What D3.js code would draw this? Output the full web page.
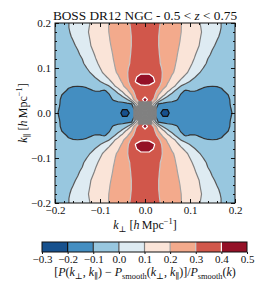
<!DOCTYPE html>
<html>
<head>
<meta charset="utf-8">
<script src="https://cdn.jsdelivr.net/npm/d3@7"></script>
<style>
body { margin: 0; background: #fff; }
text { font-family: "Liberation Serif", "DejaVu Serif", serif; fill: #111; }
</style>
</head>
<body>
<div class="container"></div>
<script>
// one quadrant of the measured ratio, k_perp and k_par from 0 to 0.2 (step 0.01)
// rows: k_par = 0, 0.01, ... ; columns: k_perp = 0, 0.01, ...
let kQuad = [0, 0.01, 0.02, 0.03, 0.04, 0.05, 0.06, 0.07, 0.08, 0.09, 0.10,
    0.11, 0.12, 0.13, 0.14, 0.15, 0.16, 0.17, 0.18, 0.19, 0.20];

let ratioQuad = [
    [0.1, 0.0, -0.15, -0.17, -0.23, -0.23, -0.15, -0.13, -0.14, -0.155, -0.16, -0.16, -0.165, -0.17, -0.175, -0.175, -0.17, -0.16, -0.14, -0.11, -0.08],
    [0.25, 0.15, -0.05, -0.15, -0.19, -0.19, -0.14, -0.13, -0.14, -0.155, -0.16, -0.16, -0.165, -0.17, -0.175, -0.175, -0.17, -0.16, -0.135, -0.102, -0.083],
    [0.38, 0.31, 0.1, -0.11, -0.12, -0.125, -0.12, -0.12, -0.13, -0.15, -0.155, -0.155, -0.16, -0.165, -0.17, -0.17, -0.165, -0.155, -0.13, -0.097, -0.085],
    [0.45, 0.36, 0.29, 0.12, -0.01, -0.06, -0.08, -0.095, -0.115, -0.14, -0.14, -0.14, -0.15, -0.155, -0.16, -0.16, -0.155, -0.145, -0.125, -0.095, -0.085],
    [0.36, 0.35, 0.33, 0.198, 0.133, 0.03, -0.04, -0.075, -0.105, -0.125, -0.12, -0.12, -0.13, -0.14, -0.145, -0.145, -0.14, -0.13, -0.106, -0.094, -0.088],
    [0.36, 0.36, 0.34, 0.275, 0.18, 0.13, 0.06, -0.025, -0.085, -0.104, -0.097, -0.096, -0.103, -0.11, -0.115, -0.118, -0.113, -0.105, -0.094, -0.088, -0.086],
    [0.39, 0.38, 0.36, 0.32, 0.25, 0.182, 0.136, 0.083, -0.002, -0.04, -0.065, -0.08, -0.088, -0.094, -0.098, -0.099, -0.098, -0.095, -0.092, -0.09, -0.09],
    [0.47, 0.46, 0.41, 0.345, 0.28, 0.213, 0.165, 0.122, 0.08, 0.04, -0.002, -0.035, -0.055, -0.07, -0.08, -0.085, -0.088, -0.09, -0.09, -0.09, -0.09],
    [0.46, 0.45, 0.39, 0.34, 0.29, 0.237, 0.189, 0.154, 0.118, 0.081, 0.044, 0.007, -0.03, -0.055, -0.07, -0.08, -0.085, -0.09, -0.09, -0.09, -0.09],
    [0.37, 0.37, 0.36, 0.34, 0.292, 0.252, 0.212, 0.178, 0.147, 0.116, 0.081, 0.044, 0.007, -0.025, -0.045, -0.06, -0.07, -0.08, -0.085, -0.09, -0.09],
    [0.38, 0.38, 0.36, 0.33, 0.287, 0.253, 0.22, 0.188, 0.159, 0.129, 0.099, 0.067, 0.033, -0.002, -0.03, -0.05, -0.06, -0.07, -0.08, -0.085, -0.09],
    [0.36, 0.36, 0.34, 0.312, 0.282, 0.253, 0.224, 0.195, 0.168, 0.141, 0.114, 0.084, 0.052, 0.019, -0.013, -0.035, -0.05, -0.065, -0.075, -0.08, -0.085],
    [0.35, 0.35, 0.33, 0.309, 0.281, 0.254, 0.227, 0.201, 0.174, 0.149, 0.123, 0.097, 0.065, 0.032, -0.002, -0.025, -0.045, -0.06, -0.07, -0.08, -0.085],
    [0.33, 0.33, 0.318, 0.305, 0.28, 0.255, 0.23, 0.205, 0.18, 0.156, 0.132, 0.107, 0.078, 0.047, 0.016, -0.015, -0.035, -0.05, -0.065, -0.075, -0.085],
    [0.35, 0.35, 0.327, 0.303, 0.279, 0.256, 0.233, 0.209, 0.186, 0.163, 0.14, 0.116, 0.091, 0.061, 0.03, -0.002, -0.025, -0.045, -0.06, -0.07, -0.08],
    [0.36, 0.36, 0.33, 0.301, 0.278, 0.257, 0.235, 0.213, 0.191, 0.168, 0.145, 0.123, 0.101, 0.071, 0.043, 0.014, -0.015, -0.035, -0.05, -0.065, -0.075],
    [0.36, 0.36, 0.33, 0.301, 0.279, 0.258, 0.238, 0.217, 0.195, 0.173, 0.15, 0.127, 0.105, 0.079, 0.053, 0.026, -0.002, -0.025, -0.045, -0.06, -0.075],
    [0.36, 0.36, 0.33, 0.301, 0.28, 0.259, 0.239, 0.218, 0.198, 0.176, 0.153, 0.131, 0.109, 0.085, 0.06, 0.035, 0.01, -0.015, -0.035, -0.055, -0.07],
    [0.36, 0.36, 0.333, 0.303, 0.282, 0.261, 0.241, 0.22, 0.201, 0.178, 0.157, 0.135, 0.113, 0.09, 0.066, 0.041, 0.017, -0.007, -0.03, -0.05, -0.065],
    [0.36, 0.36, 0.335, 0.305, 0.284, 0.263, 0.243, 0.222, 0.202, 0.179, 0.156, 0.133, 0.109, 0.087, 0.064, 0.042, 0.02, -0.002, -0.025, -0.045, -0.06],
    [0.36, 0.36, 0.33, 0.31, 0.285, 0.265, 0.244, 0.223, 0.202, 0.178, 0.154, 0.129, 0.105, 0.083, 0.062, 0.042, 0.021, -0.002, -0.02, -0.04, -0.06]
];

// bins with no data (shown grey), [k_perp, k_par]
let maskedQuad = [[0, 0], [0.01, 0], [0.02, 0], [0, 0.01], [0.01, 0.01], [0.02, 0.01], [0, 0.02], [0.01, 0.02]];

let levels = [-0.3, -0.2, -0.1, 0.0, 0.1, 0.2, 0.3, 0.4, 0.5];
let lineLevels = [-0.2, -0.1, 0.0, 0.1, 0.2, 0.3, 0.4];
let lineGrays = ["#111111", "#333333", "#585858", "#808080", "#a3a3a3", "#c8c8c8", "#ffffff"];
let axisTicks = [-0.2, -0.1, 0.0, 0.1, 0.2];
let minorTicks = [-0.2, -0.18, -0.16, -0.14, -0.12, -0.1, -0.08, -0.06, -0.04, -0.02, 0,
    0.02, 0.04, 0.06, 0.08, 0.1, 0.12, 0.14, 0.16, 0.18, 0.2];

let W = 274, H = 295;
let svg = d3.select(".container")
    .append("svg")
    .attr("width", W)
    .attr("height", H);

let x = d3.scaleLinear().domain([-0.2, 0.2]).range([55, 235]);
let y = d3.scaleLinear().domain([-0.2, 0.2]).range([203, 23]);

// mirror the quadrant onto the full plane
let nq = kQuad.length, n = 2 * nq - 1;
let grid = new Array(n * n);
for (let j = 0; j < n; j++) {
    for (let i = 0; i < n; i++) {
        grid[j * n + i] = ratioQuad[Math.abs(j - (nq - 1))][Math.abs(i - (nq - 1))];
    }
}

// contour coords -> k -> pixels
let cell = d3.scaleLinear().domain([0.5, n - 0.5]).range([-0.2, 0.2]);
let path = d3.geoPath(d3.geoTransform({
    point: function (px, py) {
        this.stream.point(x(cell(px)), y(cell(py)));
    }
}));

svg.append("clipPath").attr("id", "plotClip")
    .append("rect")
    .attr("x", x(-0.2)).attr("y", y(0.2))
    .attr("width", x(0.2) - x(-0.2)).attr("height", y(-0.2) - y(0.2));

const bandColor = i => d3.interpolateRdBu(1 - (i + 0.5) / 8);

let plot = svg.append("g").attr("clip-path", "url(#plotClip)");

plot.append("g")
    .selectAll("path")
    .data(d3.contours().size([n, n]).thresholds(levels.slice(0, 8))(grid))
    .enter()
    .append("path")
    .attr("d", path)
    .attr("fill", (d, i) => bandColor(i));

plot.append("g")
    .selectAll("path")
    .data(d3.contours().size([n, n]).thresholds(lineLevels)(grid))
    .enter()
    .append("path")
    .attr("d", path)
    .attr("fill", "none")
    .attr("stroke", (d, i) => lineGrays[i])
    .attr("stroke-width", 1.2)
    .attr("stroke-linejoin", "round");

// masked bins
let masked = [];
maskedQuad.forEach(p => {
    [1, -1].forEach(sx => [1, -1].forEach(sy => {
        let q = [p[0] * sx, p[1] * sy];
        if (!masked.some(m => m[0] === q[0] && m[1] === q[1])) masked.push(q);
    }));
});
plot.append("g")
    .selectAll("rect")
    .data(masked)
    .enter()
    .append("rect")
    .attr("x", d => x(d[0] - 0.005))
    .attr("y", d => y(d[1] + 0.005))
    .attr("width", x(0.005) - x(-0.005))
    .attr("height", y(-0.005) - y(0.005))
    .attr("fill", "#808080")
    .attr("stroke", "#808080")
    .attr("stroke-width", 0.8);

// axes
let fmt = d3.format(".1f");
const styleAxis = g => {
    g.select(".domain").remove();
    g.selectAll("line").attr("stroke", "#111");
    g.selectAll("text").style("font-size", "11px");
};

svg.append("g").attr("transform", "translate(0," + y(-0.2) + ")")
    .call(d3.axisBottom(x).tickValues(axisTicks).tickSize(-4).tickPadding(3).tickFormat(fmt))
    .call(styleAxis);
svg.append("g").attr("transform", "translate(" + x(-0.2) + ",0)")
    .call(d3.axisLeft(y).tickValues(axisTicks).tickSize(-4).tickPadding(4).tickFormat(fmt))
    .call(styleAxis);
svg.append("g").attr("transform", "translate(0," + y(0.2) + ")")
    .call(d3.axisTop(x).tickValues(axisTicks).tickSize(-4).tickFormat(""))
    .call(styleAxis);
svg.append("g").attr("transform", "translate(" + x(0.2) + ",0)")
    .call(d3.axisRight(y).tickValues(axisTicks).tickSize(-4).tickFormat(""))
    .call(styleAxis);

svg.append("g").attr("transform", "translate(0," + y(-0.2) + ")")
    .call(d3.axisBottom(x).tickValues(minorTicks).tickSize(-2).tickFormat(""))
    .call(styleAxis);
svg.append("g").attr("transform", "translate(0," + y(0.2) + ")")
    .call(d3.axisTop(x).tickValues(minorTicks).tickSize(-2).tickFormat(""))
    .call(styleAxis);
svg.append("g").attr("transform", "translate(" + x(-0.2) + ",0)")
    .call(d3.axisLeft(y).tickValues(minorTicks).tickSize(-2).tickFormat(""))
    .call(styleAxis);
svg.append("g").attr("transform", "translate(" + x(0.2) + ",0)")
    .call(d3.axisRight(y).tickValues(minorTicks).tickSize(-2).tickFormat(""))
    .call(styleAxis);

svg.append("rect")
    .attr("x", x(-0.2)).attr("y", y(0.2))
    .attr("width", x(0.2) - x(-0.2)).attr("height", y(-0.2) - y(0.2))
    .attr("fill", "none")
    .attr("stroke", "#111")
    .attr("stroke-width", 1);

// text with italic / sub / sup pieces
const richText = (sel, parts, size) => {
    let shift = 0;
    parts.forEach(p => {
        let target = p[1] === "sub" ? size * 0.22 : p[1] === "sup" ? -size * 0.42 : 0;
        let t = sel.append("tspan").text(p[0]).attr("dy", target - shift);
        if (p[1] === "i") t.style("font-style", "italic");
        if (p[1] === "sub" || p[1] === "sup") t.style("font-size", (size * 0.7) + "px");
        shift = target;
    });
};

let title = svg.append("text")
    .attr("x", 145).attr("y", 20)
    .attr("text-anchor", "middle")
    .style("font-size", "13.3px");
richText(title, [["BOSS DR12 NGC - 0.5 < "], ["z", "i"], [" < 0.75"]], 13.3);

let unit = [[" ["], ["h", "i"], ["\u2009Mpc"], ["\u22121", "sup"], ["]"]];

let xl = svg.append("text")
    .attr("x", 145).attr("y", 229)
    .attr("text-anchor", "middle")
    .style("font-size", "12px");
richText(xl, [["k", "i"], ["\u22a5", "sub"]].concat(unit), 12);

let yl = svg.append("text")
    .attr("transform", "translate(27,113) rotate(-90)")
    .attr("text-anchor", "middle")
    .style("font-size", "12px");
richText(yl, [["k", "i"], ["\u2225", "sub"]].concat(unit), 12);

// colorbar
let cb = d3.scaleLinear().domain([-0.3, 0.5]).range([42, 247]);
let cbTop = 242, cbH = 10;

svg.append("g")
    .selectAll("rect")
    .data(levels.slice(0, 8))
    .enter()
    .append("rect")
    .attr("x", (d, i) => cb(d))
    .attr("y", cbTop)
    .attr("width", (d, i) => cb(levels[i + 1]) - cb(d))
    .attr("height", cbH)
    .attr("fill", (d, i) => bandColor(i));

svg.append("g")
    .selectAll("line")
    .data(lineLevels)
    .enter()
    .append("line")
    .attr("x1", d => cb(d)).attr("x2", d => cb(d))
    .attr("y1", cbTop).attr("y2", cbTop + cbH)
    .attr("stroke", (d, i) => lineGrays[i])
    .attr("stroke-width", 1.2);

svg.append("rect")
    .attr("x", cb(-0.3)).attr("y", cbTop)
    .attr("width", cb(0.5) - cb(-0.3)).attr("height", cbH)
    .attr("fill", "none")
    .attr("stroke", "#111");

svg.append("g").attr("transform", "translate(0," + (cbTop + cbH) + ")")
    .call(d3.axisBottom(cb).tickValues(levels).tickSize(2).tickPadding(1).tickFormat(fmt))
    .call(styleAxis);

let cl = svg.append("text")
    .attr("x", 145).attr("y", 276)
    .attr("text-anchor", "middle")
    .style("font-size", "12px");
richText(cl, [
    ["["], ["P", "i"], ["("], ["k", "i"], ["\u22a5", "sub"], [", "], ["k", "i"], ["\u2225", "sub"],
    [") \u2212 "], ["P", "i"], ["smooth", "sub"], ["("], ["k", "i"], ["\u22a5", "sub"], [", "],
    ["k", "i"], ["\u2225", "sub"], [")]/"], ["P", "i"], ["smooth", "sub"], ["("], ["k", "i"], [")"]
], 12);
</script>
</body>
</html>
